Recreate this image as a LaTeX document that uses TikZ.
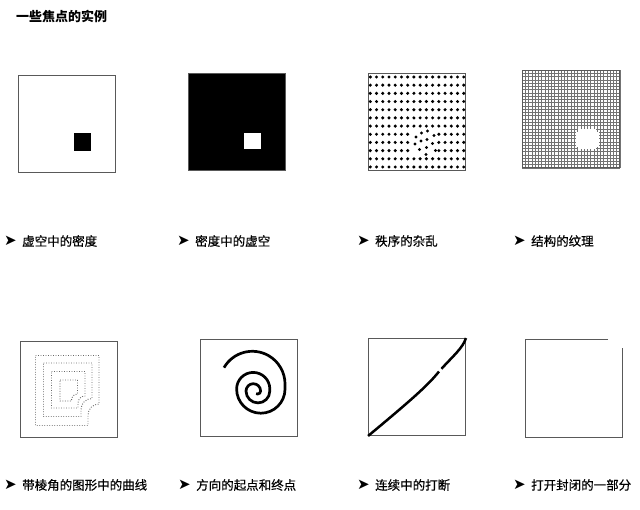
\documentclass[tikz,border=0pt]{standalone}
\usepackage{fontspec}
\newfontfamily\cjkfont{Noto Sans CJK SC}
\newfontfamily\capfont[FakeBold=0.6]{Noto Sans CJK SC}
\newfontfamily\symfont{DejaVu Sans}
\newcommand{\pointer}{\makebox[18pt][l]{\symfont\fontsize{15}{15}\selectfont ➤}}
\usepackage{tikz}

\begin{document}
\begin{tikzpicture}[x=1pt, y=1pt,
    framecol/.style={draw=black!65, line width=0.9pt},
    frame/.style={framecol, minimum width=97pt, minimum height=97pt, inner sep=0pt},
    caption/.style={anchor=west, inner sep=0pt, font=\capfont\fontsize{12.5}{14}\selectfont},
    dotline/.style={draw=black!60, line width=0.9pt, dash pattern=on 0.9pt off 1.6pt},
    gridline/.style={draw=black!55, line width=0.5pt},
    thickline/.style={line width=2.5pt}
  ]
  \useasboundingbox (0,0) rectangle (640,-509);

  \node[anchor=west, inner sep=0pt, font=\cjkfont\bfseries\fontsize{13}{15}\selectfont] (title) at (16,-16) {一些焦点的实例};

  % first row
  \node[frame] (f1) at (66.5,-123.5) {};
  \fill (74,-133) rectangle (91,-151);

  \node[frame, fill=black] (f2) at (237,-122) {};
  \fill[white] (244,-133) rectangle (261,-149);

  \node[frame] (f3) at (417,-122) {};
  \foreach \i in {0,...,15}
    \foreach \j in {0,...,11}{
      \pgfmathtruncatemacro\isgap{(\i>6)&&(\i<11)&&(\j>6)&&(\j<10)}
      \ifnum\isgap=0 \fill (370.3+6.23*\i,-77-8.18*\j) circle[radius=1.7];\fi
    }
  \foreach \p in {(416,-137),(421.5,-133),(427.5,-131),(434,-135.5),(415,-144),(421,-141),(427,-139.5),(432.5,-143.5),(419.5,-149.5),(426.5,-147.5),(435.5,-150.5),(426,-154.5)}
    \fill \p circle[radius=1.7];

  \foreach \k in {0,...,30}{
    \draw[gridline] (522+3.2667*\k,-70) -- (522+3.2667*\k,-168);
    \draw[gridline] (522,-70-3.2667*\k) -- (620,-70-3.2667*\k);
  }
  \fill[white] (578,-129) rectangle (596,-149);
  \fill[white] (575.5,-131.5) rectangle (598.5,-146.5);
  \node[frame] (f4) at (571,-119) {};

  \node[caption] (lbl1) at (4,-241) {\pointer 虚空中的密度};
  \node[caption] (lbl2) at (177,-241) {\pointer 密度中的虚空};
  \node[caption] (lbl3) at (357,-241) {\pointer 秩序的杂乱};
  \node[caption] (lbl4) at (513,-241) {\pointer 结构的纹理};

  % second row
  \node[frame, minimum height=96pt] (f5) at (68.5,-389) {};
  \draw[dotline] (35.5,-355.5) -- (99,-355.5) -- (99,-404) arc[start angle=90, end angle=180, radius=11] -- (88,-425.5) -- (35.5,-425.5) -- cycle;
  \draw[dotline] (43.5,-363) -- (92,-363) -- (92,-398.5) arc[start angle=90, end angle=180, radius=11] -- (81,-416.5) -- (43.5,-416.5) -- cycle;
  \draw[dotline] (51.5,-371.5) -- (85,-371.5) -- (85,-396) arc[start angle=90, end angle=180, radius=7] -- (78,-408) -- (51.5,-408) -- cycle;
  \draw[dotline] (60,-380) -- (77.5,-380) -- (77.5,-394) arc[start angle=90, end angle=180, radius=6] -- (71.5,-401) -- (60,-401) -- cycle;

  \node[frame] (f6) at (249,-388) {};
  \coordinate (spiralstart) at (224,-367.65);
  \draw[thickline, line width=2.7pt] (spiralstart)
    arc[start angle=150, end angle=0, radius=32.7] -- ++(0,-5)
    arc[start angle=0, end angle=-180, radius=24.2]
    arc[start angle=180, end angle=0, radius=16.6] -- ++(0,-2)
    arc[start angle=0, end angle=-180, radius=11.9]
    arc[start angle=180, end angle=0, radius=7.3]
    arc[start angle=0, end angle=-120, radius=3];

  \node[frame] (f7) at (417,-387) {};
  \draw[thickline] (f7.south west) .. controls (415,-397) and (429,-384) .. (439,-371.5);
  \draw[thickline] (441.5,-368.8) .. controls (452,-357) and (463,-348) .. (f7.north east);

  \draw[framecol] (608,-339) -- (525,-339) -- (525,-437) -- (622,-437) -- (622,-348);

  \node[caption] (lbl5) at (4,-485) {\pointer 带棱角的图形中的曲线};
  \node[caption] (lbl6) at (178,-485) {\pointer 方向的起点和终点};
  \node[caption] (lbl7) at (357,-485) {\pointer 连续中的打断};
  \node[caption] (lbl8) at (513,-485) {\pointer 打开封闭的一部分};
\end{tikzpicture}
\end{document}
